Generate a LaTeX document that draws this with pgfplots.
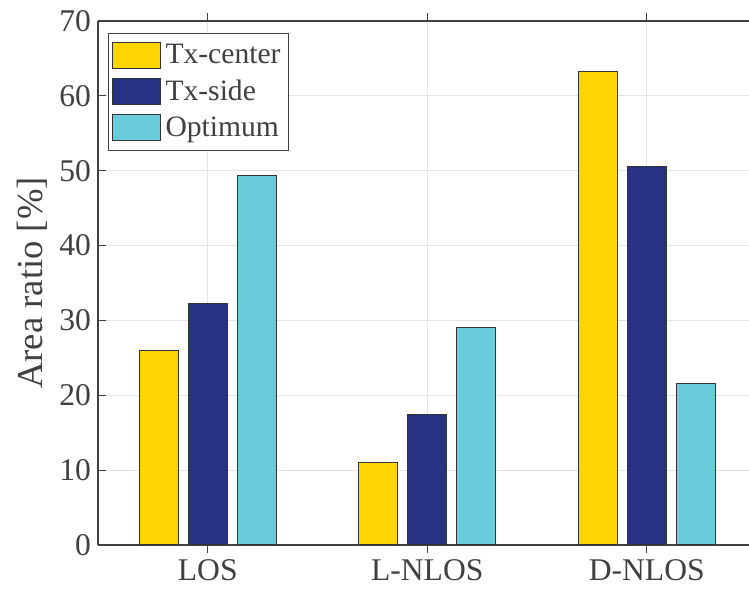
\documentclass[border=0pt]{standalone}
\usepackage{fontspec}
\setmainfont{Liberation Serif}
\usepackage{pgfplots}
\pgfplotsset{compat=1.18}
\definecolor{cgold}{HTML}{FFD500}
\definecolor{cnavy}{HTML}{283282}
\definecolor{ccyan}{HTML}{6ACBDB}
\definecolor{txt}{HTML}{404040}
\begin{document}
\begin{tikzpicture}
\begin{axis}[
  scale only axis, width=325.5pt, height=262pt,
  xmin=-0.5, xmax=2.466, ymin=0, ymax=70,
  axis y line*=left,
  xtick={0,1,2}, xticklabels={LOS,L-NLOS,D-NLOS},
  ytick={0,10,...,70},
  /pgf/number format/assume math mode=true,
  tick align=inside, major tick length=4pt,
  tick style={txt, line width=0.5pt},
  axis line style={txt, line width=0.6pt},
  grid=major, major grid style={gray!22, line width=0.5pt},
  ticklabel style={font=\fontsize{15.8}{17}\selectfont, text=txt},
  ylabel={Area ratio [\%]},
  ylabel style={font=\fontsize{18.3}{19}\selectfont, text=txt, yshift=-1pt},
  ybar, bar width=0.178, bar shift=0pt,
  legend style={at={(0,1)}, anchor=north west, xshift=5pt, yshift=-6pt,
    draw=txt, line width=0.5pt, font=\fontsize{14.8}{17.5}\selectfont, text=txt,
    row sep=2.5pt, inner xsep=2pt, inner ysep=3.5pt, cells={anchor=west}},
  legend image code/.code={\draw[#1] (0pt,-6.5pt) rectangle (24pt,6.5pt);},
  every axis plot/.append style={draw=black!80, line width=0.5pt},
]
\addplot[fill=cgold] coordinates {(-0.223,26.0) (0.777,11.0) (1.777,63.2)};
\addplot[fill=cnavy] coordinates {(0,32.2) (1,17.4) (2,50.5)};
\addplot[fill=ccyan] coordinates {(0.223,49.4) (1.223,29.0) (2.223,21.6)};
\legend{Tx-center,Tx-side,Optimum}
\end{axis}
\pgfresetboundingbox
\path (-49pt,-24pt) rectangle (325.5pt,272.5pt);
\end{tikzpicture}
\end{document}
